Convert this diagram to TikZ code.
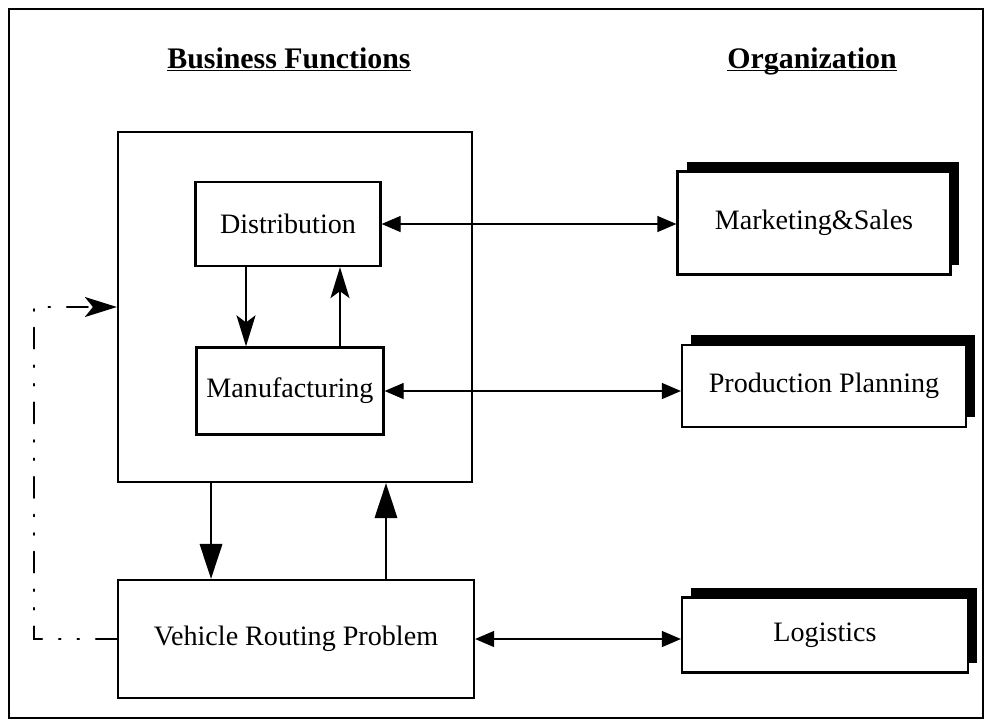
\documentclass[tikz,border=0pt]{standalone}
\usepackage{fontspec}
\setmainfont{Liberation Serif}
\usetikzlibrary{arrows.meta,shadows}

\tikzset{
  fbox/.style={draw, line width=1.3pt, fill=white, inner sep=0pt, font=\fontsize{16}{19}\selectfont},
  orgbox/.style={fbox, drop shadow={shadow xshift=0.18cm, shadow yshift=0.2cm, fill=black, opacity=1}},
  head/.style={anchor=base, font=\fontsize{17}{20}\selectfont\bfseries},
  link/.style={{Triangle[length=0.38cm,width=0.32cm]}-{Triangle[length=0.38cm,width=0.32cm]}, line width=0.7pt},
  flow/.style={-{Stealth[length=0.62cm,width=0.38cm,inset=0.14cm]}, line width=1.1pt},
  bigflow/.style={-{Triangle[length=0.7cm,width=0.45cm]}, line width=1.1pt},
  feedback/.style={-{Stealth[length=0.64cm,width=0.4cm,inset=0.16cm]}, line width=1.1pt, line cap=round,
    dash pattern=on 12pt off 9.5pt on 1pt off 9.5pt on 1pt off 9.5pt}
}

\begin{document}
\begin{tikzpicture}[x=0.02cm, y=-0.02cm]
  \useasboundingbox (0,0) rectangle (987,721);
  \draw[line width=1.1pt] (9,9) rectangle (983,718);

  \node[head] (bf) at (289,68) {\underline{\smash{Business Functions}}};
  \node[head] (org) at (812,68) {\underline{\smash{Organization}}};

  % business functions
  \node[fbox, minimum width=7.08cm, minimum height=7cm] (funcs) at (295,307) {};
  \node[fbox, minimum width=3.7cm, minimum height=1.68cm] (dist) at (288,224) {Distribution};
  \node[fbox, minimum width=3.74cm, minimum height=1.74cm] (manuf) at (290,391) {Manufacturing};
  \node[fbox, minimum width=7.12cm, minimum height=2.36cm] (vrp) at (296,639) {Vehicle Routing Problem};

  % organization
  \node[orgbox, minimum width=5.46cm, minimum height=2.06cm] (mkt) at (814,223) {Marketing\&Sales};
  \node[orgbox, minimum width=5.68cm, minimum height=1.64cm] (prod) at (824,386) {Production Planning};
  \node[orgbox, minimum width=5.72cm, minimum height=1.5cm] (logi) at (825,635) {Logistics};

  \draw[link] (dist.east) -- (dist.east -| mkt.west);
  \draw[link] (manuf.east) -- (manuf.east -| prod.west);
  \draw[link] (vrp.east) -- (vrp.east -| logi.west);

  \coordinate (d1) at ([xshift=-0.84cm]dist.south);
  \coordinate (d2) at ([xshift=1cm]manuf.north);
  \draw[flow] (d1) -- (d1 |- manuf.north);
  \draw[flow] (d2) -- (d2 |- dist.south);

  \coordinate (f1) at ([xshift=-1.68cm]funcs.south);
  \coordinate (f2) at ([xshift=1.8cm]vrp.north);
  \draw[bigflow] (f1) -- (f1 |- vrp.north);
  \draw[bigflow] (f2) -- (f2 |- funcs.south);

  \draw[feedback] (vrp.west) -- ++(-83,0) |- (funcs.west);
\end{tikzpicture}
\end{document}
